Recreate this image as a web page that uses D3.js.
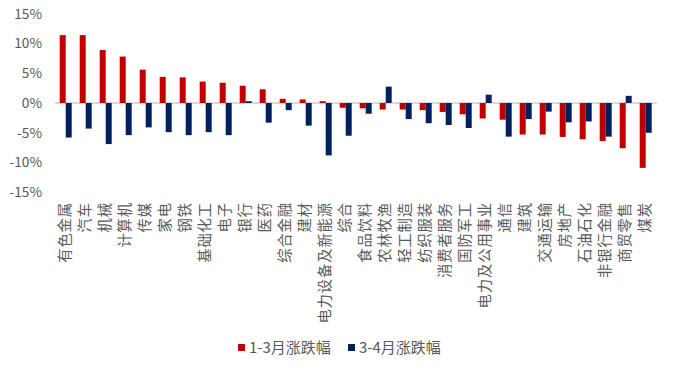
<!DOCTYPE html>
<html><head><meta charset="utf-8">
<script src="https://cdn.jsdelivr.net/npm/d3@7/dist/d3.min.js"></script>
<style>
body{margin:0;background:#fff;}
text{font-family:"Noto Sans CJK SC","Liberation Sans",sans-serif;fill:#595959;}
</style></head>
<body><svg id="c" width="675" height="373"></svg>
<script>
const categories = ["有色金属","汽车","机械","计算机","传媒","家电","钢铁","基础化工","电子","银行","医药","综合金融","建材","电力设备及新能源","综合","食品饮料","农林牧渔","轻工制造","纺织服装","消费者服务","国防军工","电力及公用事业","通信","建筑","交通运输","房地产","石油石化","非银行金融","商贸零售","煤炭"];
const seriesNames = ["1-3月涨跌幅","3-4月涨跌幅"];
const s1 = [11.4,11.4,8.9,7.8,5.6,4.4,4.3,3.6,3.4,2.9,2.3,0.7,0.6,0.3,-0.8,-0.9,-1.1,-1.1,-1.2,-1.5,-1.9,-2.6,-2.8,-5.3,-5.3,-5.7,-6.1,-6.4,-7.6,-10.9];
const s2 = [-5.8,-4.3,-6.9,-5.4,-4.1,-4.9,-5.4,-4.9,-5.4,0.3,-3.3,-1.2,-3.8,-8.8,-5.5,-1.8,2.75,-2.7,-3.4,-3.7,-4.2,1.4,-5.65,-2.7,-1.45,-3.25,-3.1,-5.65,1.2,-5.0];
const yTicks = [15,10,5,0,-5,-10,-15];
const colors = ["#C00000","#002060"];

const svg = d3.select("#c");
const x = d3.scaleBand().domain(categories).range([55.7,655.7]).padding(0);
const y = d3.scaleLinear().domain([-15,15]).range([192.3,13.7]);
const bw = x.bandwidth();

// zero line
svg.append("line").attr("x1",55).attr("x2",657).attr("y1",y(0)).attr("y2",y(0))
  .attr("stroke","#D9D9D9").attr("stroke-width",2);

// y axis labels
const yAxis = d3.axisLeft(y).tickValues(yTicks).tickSize(0).tickPadding(0).tickFormat(d=>d+"%");
const ga = svg.append("g").attr("transform","translate(42,0)").call(yAxis);
ga.select(".domain").remove();
ga.selectAll("text").attr("font-size",13.7).attr("font-family","'Liberation Sans',sans-serif").attr("fill","#595959");

const bar = bw*0.3;
[s1,s2].forEach((s,k)=>{
  svg.append("g").selectAll("rect").data(s).join("rect")
    .attr("x",(d,i)=>x(categories[i])+bw/2-bar+k*bar)
    .attr("width",bar)
    .attr("y",d=>y(Math.max(0,d)))
    .attr("height",d=>Math.abs(y(d)-y(0)))
    .attr("fill",colors[k]);
});

// x labels
svg.append("g").selectAll("text").data(categories).join("text")
  .attr("transform",d=>`translate(${x(d)+bw/2-1},202) rotate(-90)`)
  .attr("text-anchor","end").attr("dy","0.35em")
  .attr("font-size",14.3).attr("letter-spacing","0.9px")
  .text(d=>d);

// legend
const leg = [{n:seriesNames[0],c:colors[0],x:238},{n:seriesNames[1],c:colors[1],x:348}];
leg.forEach(l=>{
  svg.append("rect").attr("x",l.x).attr("y",344).attr("width",7).attr("height",7).attr("fill",l.c);
  svg.append("text").attr("x",l.x+11).attr("y",348).attr("dy","0.35em").attr("font-size",15).text(l.n);
});
</script></body></html>
